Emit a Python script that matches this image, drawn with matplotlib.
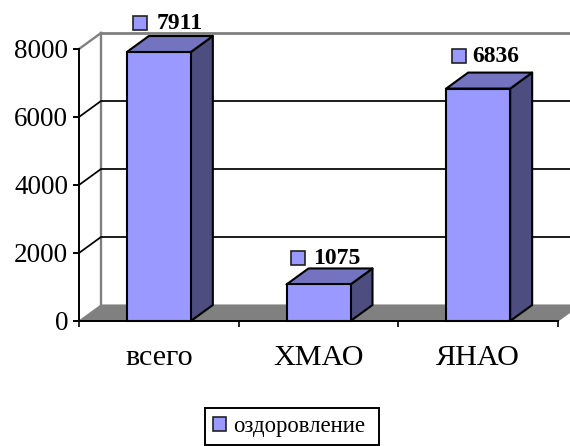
import matplotlib
matplotlib.use('Agg')
from matplotlib import pyplot as plt
from matplotlib.patches import Polygon, Rectangle, Patch

plt.rcParams['font.family'] = ['Liberation Serif', 'DejaVu Serif']

# data
categories = ['всего', 'ХМАО', 'ЯНАО']
values = [7911, 1075, 6836]
series_name = 'оздоровление'
y_ticks = [0, 2000, 4000, 6000, 8000]

W, H = 570, 446
fig = plt.figure(figsize=(W / 100, H / 100), dpi=100)
# plot box of the front plane, in pixels of the image
left, right, top, bottom = 79, 558, 49, 321
ax = fig.add_axes([left / W, 1 - bottom / H, (right - left) / W, (bottom - top) / H])
ax.set_xlim(0, 3)
ax.set_ylim(0, 8000)

# 3d look: depth of the box and pixel sizes in data units
px = 3 / (right - left)
py = 8000 / (bottom - top)
dx, dy = 22 * px, 16 * py
bar_w = 64 * px

for s in ['top', 'right']:
    ax.spines[s].set_visible(False)
for s in ['left', 'bottom']:
    ax.spines[s].set_linewidth(1.4)
    ax.spines[s].set_zorder(6)

# floor and walls
ax.add_patch(Polygon([(0, 0), (3, 0), (3 + dx, dy), (dx, dy)], facecolor='#808080',
                     edgecolor='#808080', lw=0.8, clip_on=False, zorder=1))
ax.plot([dx, dx], [dy, 8000 + dy], color='#808080', lw=1.7, clip_on=False, zorder=1.5)
ax.plot([dx, 3 + dx], [8000 + dy, 8000 + dy], color='#808080', lw=2.0, clip_on=False, zorder=1.5)
ax.plot([0, dx], [8000, 8000 + dy], color='#808080', lw=1.7, clip_on=False, zorder=1.5)
for v in y_ticks[1:-1]:
    ax.plot([0, dx, 3 + dx], [v, v + dy, v + dy], color='black', lw=1.25, clip_on=False, zorder=2)

# bars
for i, v in enumerate(values):
    x0 = i + 0.5 - bar_w / 2
    x1 = x0 + bar_w
    ax.bar(i + 0.5, v, width=bar_w, color='#9999FF', edgecolor='black', linewidth=1.5, zorder=4,
           clip_on=False)
    ax.add_patch(Polygon([(x1, 0), (x1 + dx, dy), (x1 + dx, v + dy), (x1, v)], facecolor='#4D4D80',
                         edgecolor='black', lw=1.5, joinstyle='round', clip_on=False, zorder=3))
    ax.add_patch(Polygon([(x0, v), (x1, v), (x1 + dx, v + dy), (x0 + dx, v + dy)], facecolor='#7373BF',
                         edgecolor='black', lw=1.5, joinstyle='round', clip_on=False, zorder=3))

# value labels with the small legend key
lift = [22, 19, 26]
key_x = [-26, -28, -26]
text_x = [-2, -5, -5.5]
for i, v in enumerate(values):
    cx = i + 0.5
    ax.add_patch(Rectangle((cx + key_x[i] * px, v + lift[i] * py), 14 * px, 14 * py, facecolor='#9999FF',
                           edgecolor='#222222', lw=1.2, clip_on=False, zorder=5))
    ax.text(cx + text_x[i] * px, v + (lift[i] + 9) * py, str(v), fontsize=17, fontweight='bold',
            ha='left', va='center_baseline', color='black', clip_on=False, zorder=5)

# axes ticks
ax.set_yticks(y_ticks)
ax.tick_params(axis='y', labelsize=19.5, length=4.3, width=1.4, pad=3.5)
ax.set_xticks([0, 1, 2, 3])
ax.set_xticklabels([])
ax.tick_params(axis='x', which='major', length=4.3, width=1.2)
ax.set_xticks([0.5, 1.5, 2.5], categories, minor=True)
ax.tick_params(axis='x', which='minor', length=0, labelsize=21.7, pad=17)

# legend
handle = Patch(facecolor='#9999FF', edgecolor='#222222', lw=1.2, label=series_name)
leg = fig.legend(handles=[handle], loc='lower left', bbox_to_anchor=(205 / W, 1 / H, 174 / W, 38 / H),
                 mode='expand', fontsize=16.4, handlelength=0.57, handleheight=0.57, handletextpad=0.3,
                 borderpad=0.35, borderaxespad=0, fancybox=False, framealpha=1, edgecolor='black')
leg.get_frame().set_linewidth(1.4)

plt.savefig('out.png', dpi=100)
